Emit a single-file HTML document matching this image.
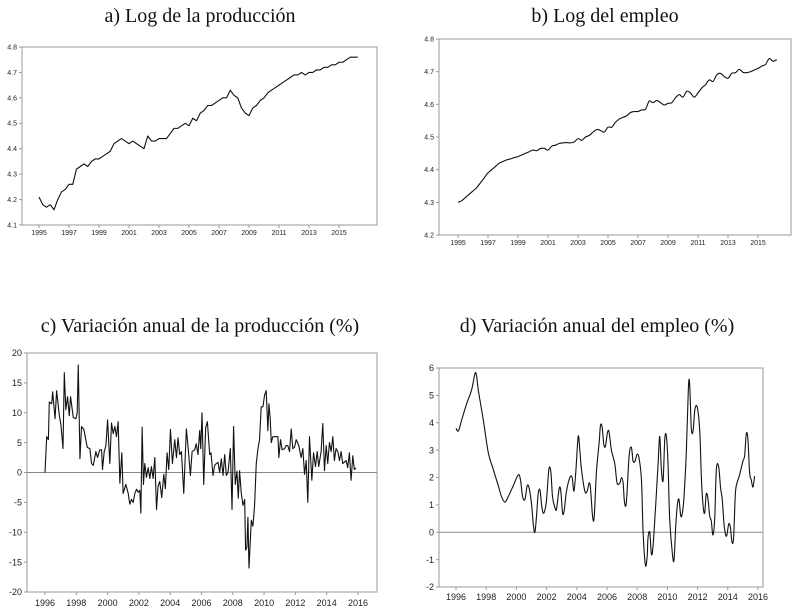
<!DOCTYPE html>
<html><head><meta charset="utf-8">
<style>
body{margin:0;background:#fff;}
svg{display:block;}
.title{font-family:"Liberation Serif",serif;font-size:20px;fill:#111;}
.tk{font-family:"Liberation Sans",sans-serif;fill:#222;}
</style></head>
<body>
<svg id="chart" width="799" height="611" viewBox="0 0 799 611">
<text class="title" x="200" y="22" text-anchor="middle">a) Log de la producción</text>
<text class="title" x="605" y="22" text-anchor="middle">b) Log del empleo</text>
<text class="title" x="200" y="332" text-anchor="middle">c) Variación anual de la producción (%)</text>
<text class="title" x="597" y="332" text-anchor="middle">d) Variación anual del empleo (%)</text>
</svg>
<script>
// ---- Panel a: log production, quarterly from 1995Q1
const prodLog = [4.21,4.18,4.17,4.18, 4.16,4.20,4.23,4.24, 4.26,4.26,4.32,4.33, 4.34,4.33,4.35,4.36,
 4.36,4.37,4.38,4.39, 4.42,4.43,4.44,4.43, 4.42,4.43,4.42,4.41, 4.40,4.45,4.43,4.43,
 4.44,4.44,4.44,4.46, 4.48,4.48,4.49,4.50, 4.49,4.52,4.51,4.54, 4.55,4.57,4.57,4.58,
 4.59,4.60,4.60,4.63, 4.61,4.60,4.56,4.54, 4.53,4.56,4.57,4.59, 4.60,4.62,4.63,4.64,
 4.65,4.66,4.67,4.68, 4.69,4.69,4.70,4.69, 4.70,4.70,4.71,4.71, 4.72,4.72,4.73,4.73,
 4.74,4.74,4.75,4.76, 4.76,4.76];
const ticksA = [4.1,4.2,4.3,4.4,4.5,4.6,4.7,4.8];
const yearsAB = [1995,1997,1999,2001,2003,2005,2007,2009,2011,2013,2015];
// ---- Panel b: log employment, quarterly from 1995Q1
const empLog = [4.30,4.305,4.315,4.325, 4.335,4.345,4.36,4.375, 4.39,4.40,4.41,4.42, 4.425,4.43,4.433,4.437,
 4.44,4.445,4.45,4.455, 4.46,4.458,4.465,4.465, 4.46,4.472,4.475,4.48, 4.482,4.483,4.482,4.485,
 4.495,4.49,4.50,4.505, 4.515,4.523,4.52,4.515, 4.53,4.53,4.545,4.555, 4.56,4.565,4.575,4.578,
 4.578,4.583,4.585,4.61, 4.605,4.612,4.605,4.598, 4.603,4.605,4.62,4.63, 4.622,4.64,4.635,4.622,
 4.635,4.65,4.66,4.675, 4.67,4.69,4.695,4.685, 4.68,4.695,4.697,4.707, 4.698,4.697,4.70,4.705,
 4.71,4.717,4.722,4.74, 4.732,4.737];
const ticksB = [4.2,4.3,4.4,4.5,4.6,4.7,4.8];
// ---- Panel c: annual growth production (months since Jan 1996)
const monthsC = [0,1.3,2.6,3.3,5.1,5.9,7.7,8.9,11,12.2,13.8,14.8,16,17.3,18.6,19.6,21.7,23.7,24.7,25.5,26.8,28,29.8,32.4,34.4,35.7,37,39,40.3,42,43.4,44.1,45.4,46.7,48,49.7,51,52.3,53.6,54.8,56.1,57.4,58.9,59.9,62,63.8,65,66.3,67.6,68.9,70.2,71.4,72.7,73.5,74.5,75.5,76.5,77.8,79.1,80.4,81.6,82.9,84.2,85.5,86.7,88,89.5,91.1,92.3,93.6,94.9,96.2,97.7,99.5,100.8,102,103.3,104.6,106.4,108.4,110,111.5,112.8,114.8,116,117.3,118.6,119.4,120.4,121.7,123.2,124.5,126.3,127.3,128.8,130.1,131.4,132.7,133.9,135.2,136.5,137.8,139,140.3,142.1,143.4,144.6,145.9,147.2,148.2,149.2,150.5,151.8,153.1,153.8,154.8,155.6,156.4,158.2,159.4,160.7,162,163.3,164.5,165.8,167.1,168.4,169.6,170.9,171.7,172.7,173.5,174.7,177.3,178.6,179.3,180.6,181.8,183.7,184.9,186.2,187.5,188.8,190,191.3,192.6,194.6,196.4,197.7,199,200.3,201.5,202.8,204.6,205.9,207.4,208.7,209.9,211.7,213,214.3,215.6,216.8,218.1,219.4,220.7,221.9,223.2,224.5,225.8,227,228.3,230.9,232.1,233.4,234.7,236,237.2,238.5];
const valuesC = [0,6,5.5,11.8,11.5,13.5,9,13.7,9.5,8,4,16.7,10.5,12.7,9.5,12.7,9.2,9,10,18,2.3,7.7,7.2,4.2,4,1.5,1.2,3.5,2.5,3.8,3.8,0.5,3.5,4.5,8.8,1.5,8.3,6.5,7.7,6,8.5,-1.8,3.3,-3.5,-2,-3.5,-5.3,-4.5,-5,-3.5,-2.8,-3.3,-3,-6.8,7.6,-2,1.5,-0.8,0.8,-1,1,-1,2.5,-6.2,-2.3,-1.5,-4.2,-0.3,-2.7,3.3,0.5,7.2,1.5,5.5,2.5,5.8,3,3.5,-3.5,7.3,3.5,-0.5,3.5,3.8,4.8,3,7,4,10,-2,7.5,8.5,3,3.3,-0.5,1.2,1.5,1.7,0,2.3,-0.5,3,-0.5,0,4,-6.2,7.7,-2,0.2,-4.3,0.3,-3.5,-5.5,-4.5,-13,-12.5,-7.5,-16,-8,-9,-5.5,1.5,4,5.5,11,11,13,13.7,7,11.5,9,5,6,6,6,2.5,5.5,3.8,4,4.5,4.5,3.5,7.3,4,4.2,5.5,4.5,2.5,4,-0.3,2,-5,6,-1.3,3.3,1,3.5,1,3.5,8.2,0.3,4.5,1.5,5,3.5,6,2,4,3.5,2,3.5,1.5,2,0.8,3.3,-1.3,2.8,0.5,0.8];
const ticksC = [-20,-15,-10,-5,0,5,10,15,20];
const yearsCD = [1996,1998,2000,2002,2004,2006,2008,2010,2012,2014,2016];
// ---- Panel d: annual growth employment (months since Jan 1996)
const monthsD = [0,1.9,4.5,8.5,12.4,15.1,16.4,17.7,21.7,25.7,29.6,33.6,36.2,38.9,41.5,45.5,49.5,51.3,52.9,54.8,56.6,58.2,60.1,61.4,62.7,64,65.3,66.7,68,69.3,70.6,72,73.8,75.4,76.7,78.6,79.9,82,83.3,84.7,86,87.8,90.5,92.3,93.7,95.2,97.1,98.4,99.7,102.4,104.2,105.8,106.9,108.5,109.8,111.6,113.8,114.8,116.1,117.5,118.8,120.4,121.7,123.5,126.2,128,130.2,131.5,132.8,133.9,135.4,137.6,139.4,140.7,142.3,143.9,145.5,147.4,148.7,150.5,151.9,152.6,154,155.3,156.6,158.7,160.6,161.9,163.2,164.6,165.9,167.2,168.5,169.8,172,173.3,174.6,175.9,177.2,178.6,179.9,181.2,183.1,184.7,185.7,187,188.4,189.9,191.8,193.7,195,196.3,197.6,198.9,200.3,201.6,202.9,204.2,205.6,206.9,208.7,210.3,211.6,213,214.3,215.3,216.7,218,219.3,220.6,222,223.3,225.4,228,229.4,230.7,232,233.3,234.7,236,237.3];
const valuesD = [3.8,3.7,4.1,4.7,5.2,5.8,5.7,5.2,4.1,2.9,2.3,1.7,1.3,1.1,1.3,1.7,2.1,1.9,1.3,1.2,1.7,1.6,1.0,0.3,0.0,0.6,1.4,1.55,1.0,0.7,0.8,1.2,2.3,2.2,1.3,0.9,0.85,1.6,1.5,0.7,0.8,1.5,2.0,2.0,1.5,2.2,3.5,3.0,2.3,1.5,1.5,1.8,1.6,0.6,0.55,2.2,3.3,3.9,3.85,3.2,3.15,3.65,3.65,3.0,2.5,1.8,1.8,2.0,1.8,1.1,1.1,2.8,3.1,2.6,2.6,2.85,2.7,1.9,0.0,-1.2,-0.9,-0.2,0.0,-0.8,-0.5,1.0,2.5,3.5,2.3,1.9,3.4,3.5,2.5,0.5,-0.8,-1.0,0.2,1.0,1.2,0.6,0.7,1.3,3.0,5.3,5.4,3.8,3.7,4.5,4.55,3.7,2.0,1.0,0.7,1.4,1.2,0.6,0.4,-0.1,0.5,2.3,2.4,1.6,1.2,0.3,-0.1,-0.1,0.3,0.2,-0.35,-0.2,1.4,1.8,2.1,2.6,2.8,3.6,3.4,2.2,1.9,1.65,2.05];
const ticksD = [-2,-1,0,1,2,3,4,5,6];

const NS='http://www.w3.org/2000/svg';
const svg=document.getElementById('chart');
function mk(tag,attrs,parent){const e=document.createElementNS(NS,tag);for(const k in attrs)e.setAttribute(k,attrs[k]);(parent||svg).appendChild(e);return e;}
function lin(d0,d1,r0,r1){return v=>r0+(v-d0)*(r1-r0)/(d1-d0);}

function panel(cfg){
  const g=mk('g',{});
  
  
  const fr=mk('rect',{x:cfg.L,y:cfg.T,width:cfg.R-cfg.L,height:cfg.B-cfg.T,fill:'none',stroke:'#9a9a9a','stroke-width':1},g);
  
  
  const ys=lin(cfg.ticks[0],cfg.ticks[cfg.ticks.length-1],cfg.B,cfg.T);
  cfg.ticks.forEach(t=>{
    const y=ys(t);
    mk('line',{x1:cfg.L-3,x2:cfg.L,y1:y,y2:y,stroke:'#9a9a9a'},g);
    const tx=mk('text',{x:cfg.L-5,y:y+cfg.fs*0.35,'text-anchor':'end','font-size':cfg.fs,class:'tk'},g);
    tx.textContent=cfg.fmt(t);
    
    
  });
  cfg.years.forEach(yr=>{
    const x=cfg.xs(yr);
    mk('line',{x1:x,x2:x,y1:cfg.B,y2:cfg.B+3,stroke:'#9a9a9a'},g);
    const tx=mk('text',{x:x,y:cfg.B+cfg.lblDy,'text-anchor':'middle','font-size':cfg.fs,class:'tk'},g);
    tx.textContent=yr;
    
    
  });
  if(cfg.zero){
    const zl=mk('line',{x1:cfg.L,x2:cfg.R,y1:ys(0),y2:ys(0),stroke:'#888','stroke-width':1},g);
    
    
  }
  const pts=cfg.px.map((p,i)=>[p,ys(cfg.vals[i])]);
  let d;
  if(cfg.smooth){
    d='M'+pts[0][0].toFixed(2)+','+pts[0][1].toFixed(2);
    for(let i=0;i<pts.length-1;i++){
      const p0=pts[Math.max(0,i-1)],p1=pts[i],p2=pts[i+1],p3=pts[Math.min(pts.length-1,i+2)];
      const c1=[p1[0]+(p2[0]-p0[0])/6,p1[1]+(p2[1]-p0[1])/6];
      const c2=[p2[0]-(p3[0]-p1[0])/6,p2[1]-(p3[1]-p1[1])/6];
      d+=' C'+c1.map(v=>v.toFixed(2))+' '+c2.map(v=>v.toFixed(2))+' '+p2.map(v=>v.toFixed(2));
    }
  } else d='M'+pts.map(p=>p[0].toFixed(2)+','+p[1].toFixed(2)).join(' L');
  const ln=mk('path',{d:d,fill:'none',stroke:'#111','stroke-width':1.1,'stroke-linejoin':'round'},g);
  
  
}

// Panel a
const xsA=lin(1995,2015,39,339);
panel({name:'panel-a-log-production',L:22,R:377,T:47,B:225,ticks:ticksA,fmt:v=>v.toFixed(1),fs:7,
  years:yearsAB,xs:xsA,lblDy:10,px:prodLog.map((v,i)=>xsA(1995+i/4)),vals:prodLog});
// Panel b
const xsB=lin(1995,2015,458,758);
panel({name:'panel-b-log-employment',L:439,R:791,T:39,B:235,ticks:ticksB,fmt:v=>v.toFixed(1),fs:7,
  years:yearsAB,xs:xsB,lblDy:10,px:empLog.map((v,i)=>xsB(1995+i/4)),vals:empLog,smooth:true});
// Panel c
const xsC=lin(1996,2016,45,358);
panel({name:'panel-c-production-growth',L:27,R:377,T:353,B:592,ticks:ticksC,fmt:v=>String(v),fs:9,
  years:yearsCD,xs:xsC,lblDy:14,px:monthsC.map(m=>xsC(1996+m/12)),vals:valuesC,zero:true});
// Panel d
const xsD=lin(1996,2016,456,758);
panel({name:'panel-d-employment-growth',L:439,R:763,T:368,B:587,ticks:ticksD,fmt:v=>String(v),fs:9,
  years:yearsCD,xs:xsD,lblDy:13,px:monthsD.map(m=>xsD(1996+m/12)),vals:valuesD,zero:true,smooth:true});
</script>
</body></html>
